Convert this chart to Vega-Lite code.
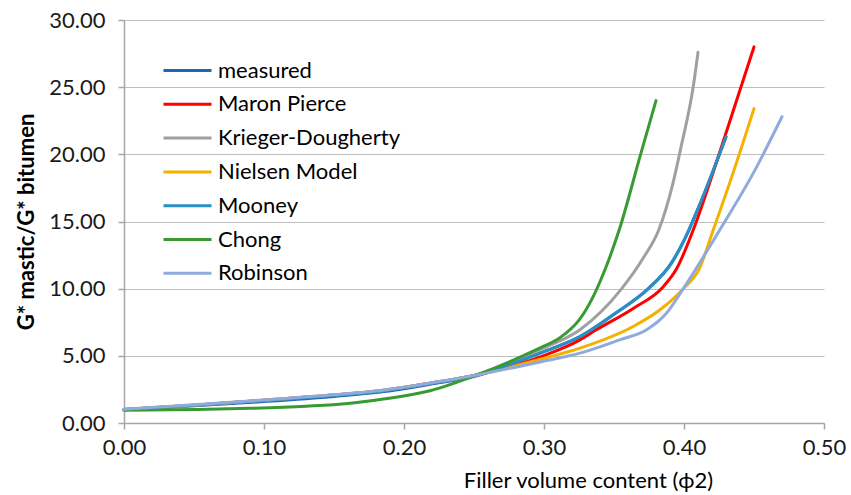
{
  "$schema": "https://vega.github.io/schema/vega-lite/v6.json",
  "width": 700,
  "height": 403,
  "autosize": {"type": "none"},
  "padding": {"left": 124, "top": 20, "right": 27, "bottom": 72},
  "background": "white",
  "config": {
    "view": {"stroke": null},
    "font": "Lato",
    "axis": {
      "labelFont": "Lato",
      "labelFontSize": 22,
      "labelColor": "#1a1a1a",
      "titleFont": "Lato",
      "titleFontSize": 22,
      "titleColor": "#000000",
      "domainColor": "#a6a6a6",
      "tickColor": "#a6a6a6",
      "gridColor": "#bfbfbf",
      "domainWidth": 1.5,
      "tickWidth": 1.5,
      "gridWidth": 1.2
    }
  },
  "data": {
    "values": [
      {"series": "measured", "x": 0.0, "y": 0.98},
      {"series": "measured", "x": 0.05, "y": 1.28},
      {"series": "measured", "x": 0.1, "y": 1.6},
      {"series": "measured", "x": 0.15, "y": 1.98},
      {"series": "measured", "x": 0.183, "y": 2.3},
      {"series": "measured", "x": 0.2186, "y": 2.88},
      {"series": "measured", "x": 0.252, "y": 3.52},
      {"series": "measured", "x": 0.2995, "y": 5.3},
      {"series": "measured", "x": 0.3257, "y": 6.44},
      {"series": "measured", "x": 0.35, "y": 8.1},
      {"series": "measured", "x": 0.3745, "y": 10.0},
      {"series": "measured", "x": 0.391, "y": 11.9},
      {"series": "measured", "x": 0.401, "y": 13.8},
      {"series": "measured", "x": 0.411, "y": 16.2},
      {"series": "measured", "x": 0.43, "y": 21.3},

      {"series": "Maron Pierce", "x": 0.0, "y": 1.0},
      {"series": "Maron Pierce", "x": 0.05, "y": 1.33},
      {"series": "Maron Pierce", "x": 0.1, "y": 1.7},
      {"series": "Maron Pierce", "x": 0.15, "y": 2.08},
      {"series": "Maron Pierce", "x": 0.183, "y": 2.4},
      {"series": "Maron Pierce", "x": 0.2186, "y": 2.96},
      {"series": "Maron Pierce", "x": 0.252, "y": 3.58},
      {"series": "Maron Pierce", "x": 0.2995, "y": 5.0},
      {"series": "Maron Pierce", "x": 0.3257, "y": 6.19},
      {"series": "Maron Pierce", "x": 0.3374, "y": 6.94},
      {"series": "Maron Pierce", "x": 0.364, "y": 8.55},
      {"series": "Maron Pierce", "x": 0.3852, "y": 10.15},
      {"series": "Maron Pierce", "x": 0.3948, "y": 11.5},
      {"series": "Maron Pierce", "x": 0.4067, "y": 14.4},
      {"series": "Maron Pierce", "x": 0.426, "y": 20.3},
      {"series": "Maron Pierce", "x": 0.45, "y": 28.0},

      {"series": "Krieger-Dougherty", "x": 0.0, "y": 1.0},
      {"series": "Krieger-Dougherty", "x": 0.05, "y": 1.33},
      {"series": "Krieger-Dougherty", "x": 0.1, "y": 1.7},
      {"series": "Krieger-Dougherty", "x": 0.15, "y": 2.08},
      {"series": "Krieger-Dougherty", "x": 0.183, "y": 2.4},
      {"series": "Krieger-Dougherty", "x": 0.2186, "y": 2.96},
      {"series": "Krieger-Dougherty", "x": 0.252, "y": 3.6},
      {"series": "Krieger-Dougherty", "x": 0.2995, "y": 5.57},
      {"series": "Krieger-Dougherty", "x": 0.3257, "y": 6.94},
      {"series": "Krieger-Dougherty", "x": 0.3555, "y": 10.0},
      {"series": "Krieger-Dougherty", "x": 0.371, "y": 12.3},
      {"series": "Krieger-Dougherty", "x": 0.3821, "y": 14.4},
      {"series": "Krieger-Dougherty", "x": 0.392, "y": 17.8},
      {"series": "Krieger-Dougherty", "x": 0.398, "y": 20.6},
      {"series": "Krieger-Dougherty", "x": 0.4067, "y": 25.1},
      {"series": "Krieger-Dougherty", "x": 0.41, "y": 27.6},

      {"series": "Nielsen Model", "x": 0.0, "y": 1.0},
      {"series": "Nielsen Model", "x": 0.05, "y": 1.33},
      {"series": "Nielsen Model", "x": 0.1, "y": 1.7},
      {"series": "Nielsen Model", "x": 0.15, "y": 2.08},
      {"series": "Nielsen Model", "x": 0.183, "y": 2.4},
      {"series": "Nielsen Model", "x": 0.2186, "y": 2.96},
      {"series": "Nielsen Model", "x": 0.252, "y": 3.58},
      {"series": "Nielsen Model", "x": 0.2995, "y": 4.8},
      {"series": "Nielsen Model", "x": 0.3257, "y": 5.57},
      {"series": "Nielsen Model", "x": 0.364, "y": 7.2},
      {"series": "Nielsen Model", "x": 0.3829, "y": 8.43},
      {"series": "Nielsen Model", "x": 0.3995, "y": 10.0},
      {"series": "Nielsen Model", "x": 0.411, "y": 11.5},
      {"series": "Nielsen Model", "x": 0.421, "y": 14.4},
      {"series": "Nielsen Model", "x": 0.435, "y": 18.6},
      {"series": "Nielsen Model", "x": 0.45, "y": 23.4},

      {"series": "Mooney", "x": 0.0, "y": 1.0},
      {"series": "Mooney", "x": 0.05, "y": 1.32},
      {"series": "Mooney", "x": 0.1, "y": 1.67},
      {"series": "Mooney", "x": 0.15, "y": 2.05},
      {"series": "Mooney", "x": 0.183, "y": 2.37},
      {"series": "Mooney", "x": 0.2186, "y": 2.93},
      {"series": "Mooney", "x": 0.252, "y": 3.58},
      {"series": "Mooney", "x": 0.2995, "y": 5.3},
      {"series": "Mooney", "x": 0.3257, "y": 6.44},
      {"series": "Mooney", "x": 0.35, "y": 8.1},
      {"series": "Mooney", "x": 0.3745, "y": 10.0},
      {"series": "Mooney", "x": 0.391, "y": 11.9},
      {"series": "Mooney", "x": 0.401, "y": 13.8},
      {"series": "Mooney", "x": 0.411, "y": 16.2},
      {"series": "Mooney", "x": 0.43, "y": 21.3},

      {"series": "Chong", "x": 0.0, "y": 0.95},
      {"series": "Chong", "x": 0.05, "y": 1.0},
      {"series": "Chong", "x": 0.09, "y": 1.09},
      {"series": "Chong", "x": 0.13, "y": 1.25},
      {"series": "Chong", "x": 0.16, "y": 1.45},
      {"series": "Chong", "x": 0.183, "y": 1.75},
      {"series": "Chong", "x": 0.2186, "y": 2.4},
      {"series": "Chong", "x": 0.252, "y": 3.58},
      {"series": "Chong", "x": 0.285, "y": 5.0},
      {"series": "Chong", "x": 0.2995, "y": 5.7},
      {"series": "Chong", "x": 0.3114, "y": 6.35},
      {"series": "Chong", "x": 0.3257, "y": 7.75},
      {"series": "Chong", "x": 0.336, "y": 9.6},
      {"series": "Chong", "x": 0.345, "y": 11.8},
      {"series": "Chong", "x": 0.3538, "y": 14.4},
      {"series": "Chong", "x": 0.369, "y": 20.0},
      {"series": "Chong", "x": 0.38, "y": 24.0},

      {"series": "Robinson", "x": 0.0, "y": 1.02},
      {"series": "Robinson", "x": 0.05, "y": 1.35},
      {"series": "Robinson", "x": 0.1, "y": 1.72},
      {"series": "Robinson", "x": 0.15, "y": 2.1},
      {"series": "Robinson", "x": 0.183, "y": 2.42},
      {"series": "Robinson", "x": 0.2186, "y": 2.97},
      {"series": "Robinson", "x": 0.252, "y": 3.58},
      {"series": "Robinson", "x": 0.2995, "y": 4.6},
      {"series": "Robinson", "x": 0.3257, "y": 5.2},
      {"series": "Robinson", "x": 0.354, "y": 6.19},
      {"series": "Robinson", "x": 0.3733, "y": 6.94},
      {"series": "Robinson", "x": 0.3876, "y": 8.19},
      {"series": "Robinson", "x": 0.3995, "y": 10.0},
      {"series": "Robinson", "x": 0.4257, "y": 14.4},
      {"series": "Robinson", "x": 0.4495, "y": 18.6},
      {"series": "Robinson", "x": 0.47, "y": 22.8}
    ]
  },
  "mark": {"type": "line", "interpolate": "monotone", "strokeWidth": 3, "strokeCap": "round"},
  "encoding": {
    "x": {
      "field": "x",
      "type": "quantitative",
      "scale": {"domain": [0, 0.5], "nice": false, "zero": true},
      "axis": {
        "values": [0, 0.1, 0.2, 0.3, 0.4, 0.5],
        "format": ".2f",
        "grid": false,
        "tickSize": 6,
        "labelFlush": false,
        "labelPadding": 8,
        "title": "Filler volume content (ϕ2)",
        "titleX": 464,
        "titleY": 64,
        "titleAlign": "center",
        "titleBaseline": "alphabetic",
        "titleFontWeight": "normal"
      }
    },
    "y": {
      "field": "y",
      "type": "quantitative",
      "scale": {"domain": [0, 30], "nice": false},
      "axis": {
        "values": [0, 5, 10, 15, 20, 25, 30],
        "format": ".2f",
        "grid": true,
        "tickSize": 6,
        "labelPadding": 13,
        "title": "G* mastic/G* bitumen",
        "titleFontWeight": "bold",
        "titlePadding": 10
      }
    },
    "color": {
      "field": "series",
      "type": "nominal",
      "scale": {
        "domain": ["measured", "Maron Pierce", "Krieger-Dougherty", "Nielsen Model", "Mooney", "Chong", "Robinson"],
        "range": ["#1f66b5", "#ff0000", "#a0a0a0", "#f5b000", "#2a8fc4", "#389a33", "#8fabdc"]
      },
      "legend": {
        "title": null,
        "orient": "none",
        "legendX": 50,
        "legendY": 37,
        "symbolType": "M-2,0H2",
        "symbolSize": 576,
        "symbolStrokeWidth": 3,
        "symbolFillColor": "transparent",
        "labelFont": "Lato",
        "labelFontSize": 22,
        "labelColor": "#000000",
        "labelOffset": 17,
        "labelLimit": 300,
        "rowPadding": 8.8
      }
    }
  }
}
